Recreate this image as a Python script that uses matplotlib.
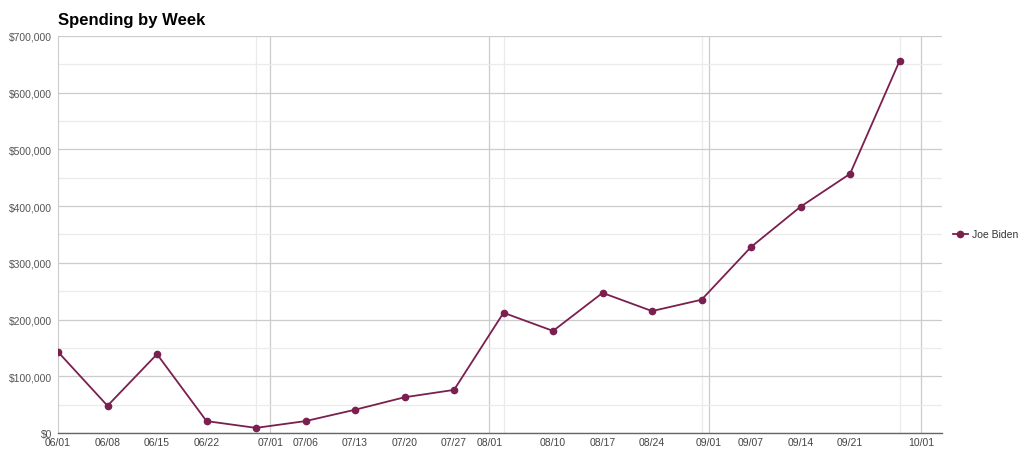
import matplotlib
matplotlib.use("Agg")
import matplotlib.pyplot as plt
import matplotlib.dates as mdates
from matplotlib.ticker import FixedLocator, FuncFormatter, MultipleLocator
import numpy as np
import datetime as dt

plt.rcParams['font.family'] = ['Liberation Sans', 'DejaVu Sans']

# weekly spend, Joe Biden
weeks = ["2020-06-01", "2020-06-08", "2020-06-15", "2020-06-22", "2020-06-29",
         "2020-07-06", "2020-07-13", "2020-07-20", "2020-07-27", "2020-08-03",
         "2020-08-10", "2020-08-17", "2020-08-24", "2020-08-31", "2020-09-07",
         "2020-09-14", "2020-09-21", "2020-09-28"]
spend = [143000, 48000, 139000, 21000, 9000, 21000, 41000, 63000, 76000, 212000,
         180000, 247000, 215000, 235000, 328000, 399000, 457000, 656000]
tick_days = ["2020-06-01", "2020-06-08", "2020-06-15", "2020-06-22", "2020-07-01",
             "2020-07-06", "2020-07-13", "2020-07-20", "2020-07-27", "2020-08-01",
             "2020-08-10", "2020-08-17", "2020-08-24", "2020-09-01", "2020-09-07",
             "2020-09-14", "2020-09-21", "2020-10-01"]
month_starts = ["2020-07-01", "2020-08-01", "2020-09-01", "2020-10-01"]

def todate(s):
    return dt.datetime.strptime(s, "%Y-%m-%d")

x = mdates.date2num([todate(s) for s in weeks])
xt = mdates.date2num([todate(s) for s in tick_days])
xm = mdates.date2num([todate(s) for s in month_starts])

fig = plt.figure(figsize=(10.24, 4.64), dpi=100)
ax = fig.add_axes([58/1024, 30/464, (942-58)/1024, (434-37)/464])

color = '#7a1f4f'
ax.plot(x, spend, color=color, lw=1.3, marker='o', ms=4.5, label='Joe Biden', zorder=5)

ax.set_xlim(x[0], mdates.date2num(todate("2020-10-04")))
ax.set_ylim(0, 700000)

# y grid
ax.yaxis.set_major_locator(MultipleLocator(100000))
ax.yaxis.set_minor_locator(MultipleLocator(50000))
ax.yaxis.set_major_formatter(FuncFormatter(lambda v, p: "${:,.0f}".format(v)))
ax.grid(axis='y', which='major', color='#cccccc', lw=0.9)
ax.grid(axis='y', which='minor', color='#ebebeb', lw=0.9)

# x grid: weekly light lines, month lines darker
ax.xaxis.set_major_locator(FixedLocator(xt))
ax.xaxis.set_major_formatter(FuncFormatter(lambda v, p: mdates.num2date(v).strftime("%m/%d")))
ax.xaxis.set_minor_locator(FixedLocator(x))
ax.grid(axis='x', which='minor', color='#ebebeb', lw=0.9)
for m in xm:
    ax.axvline(m, color='#cccccc', lw=0.9, zorder=0.5)
ax.set_axisbelow(True)

ax.tick_params(which='both', length=0)
ax.tick_params(axis='y', labelsize=7.5, labelcolor='#555555', pad=4)
ax.tick_params(axis='x', labelsize=7.5, labelcolor='#444444', pad=3)

for s in ['top', 'right']:
    ax.spines[s].set_visible(False)
ax.spines['left'].set_color('#cccccc')
ax.spines['bottom'].set_color('#666666')
ax.spines['bottom'].set_linewidth(1.0)

leg = ax.legend(loc='center left', bbox_to_anchor=(1.012, 0.5), frameon=False,
                fontsize=7.5, handlelength=1.5, handletextpad=0.4, borderpad=0,
                borderaxespad=0)
for t in leg.get_texts():
    t.set_color('#333333')

fig.text(58/1024, 1 - 20/464, "Spending by Week", fontsize=12, fontweight='bold',
         va='center', ha='left', color='#000000')

fig.savefig("out.png", dpi=100)
